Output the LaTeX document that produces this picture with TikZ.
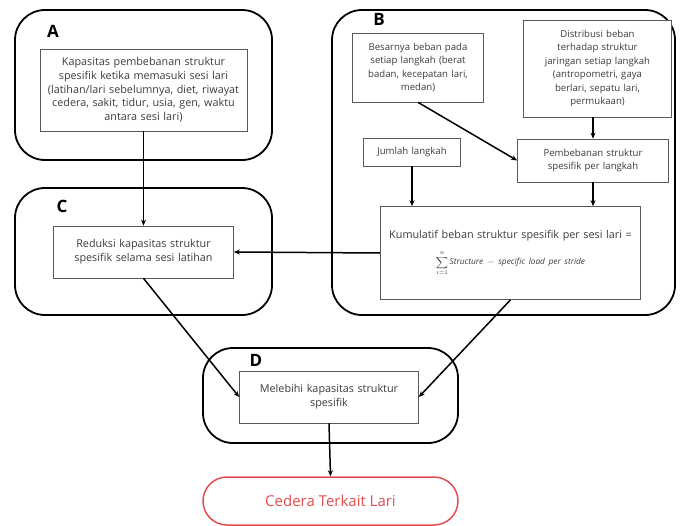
\documentclass[tikz,border=0pt]{standalone}
\usepackage{fontspec}
\setmainfont{Open Sans}
\usepackage{amsmath}
\usetikzlibrary{arrows.meta}
\definecolor{merah}{RGB}{226,78,78}
\definecolor{teks}{RGB}{60,60,60}
\tikzset{
  grup/.style={draw=black, line width=1.8pt, rounded corners=30pt, inner sep=0pt},
  kotak/.style={draw=black!65, line width=0.7pt, fill=white, inner sep=2pt, align=center,
    text=teks, font=\fontsize{9.6}{13.5}\selectfont},
  besar/.style={font=\fontsize{10.8}{13.7}\selectfont},
  huruf/.style={font=\fontsize{17}{17}\selectfont\bfseries},
  panah/.style={line width=1.5pt, -{Stealth[length=6pt,width=5pt]}}
}
\begin{document}
\begin{tikzpicture}[x=1pt,y=-1pt]
\useasboundingbox (0,0) rectangle (680,525);
% kelompok
\node[grup, minimum width=257pt, minimum height=150pt] (grpA) at (143.5,85) {};
\node[grup, minimum width=257pt, minimum height=127pt] (grpC) at (143.5,251.5) {};
\node[grup, minimum width=343pt, minimum height=305pt] (grpB) at (503.5,162.5) {};
\node[grup, minimum width=255pt, minimum height=95pt] (grpD) at (330.5,395.5) {};
\node[huruf] (labA) at (53,31) {A};
\node[huruf] (labB) at (379,19) {B};
\node[huruf] (labC) at (62,206) {C};
\node[huruf] (labD) at (256,360) {D};
% kotak isi
\node[kotak, besar, text width=203pt, minimum height=82pt] (kapasitas) at (143.5,90)
  {Kapasitas pembebanan struktur\\ spesifik ketika memasuki sesi lari\\ (latihan/lari sebelumnya, diet, riwayat\\ cedera, sakit, tidur, usia, gen, waktu\\ antara sesi lari)};
\node[kotak, besar, text width=176pt, minimum height=52pt] (reduksi) at (143.5,252)
  {Reduksi kapasitas struktur\\ spesifik selama sesi latihan};
\node[kotak, text width=127pt, minimum height=69pt] (besar) at (418,67.5)
  {Besarnya beban pada\\ setiap langkah (berat\\ badan, kecepatan lari,\\ medan)};
\node[kotak, text width=144pt, minimum height=97pt] (distribusi) at (597.5,68.5)
  {Distribusi beban\\ terhadap struktur\\ jaringan setiap langkah\\ (antropometri, gaya\\ berlari, sepatu lari,\\ permukaan)};
\node[kotak, text width=93pt, minimum height=28pt] (jumlah) at (412,152) {Jumlah langkah};
\node[kotak, text width=147pt, minimum height=43pt] (pembebanan) at (593,160.5)
  {Pembebanan struktur\\ spesifik per langkah};
\node[kotak, besar, text width=256pt, minimum height=93pt] (kumulatif) at (510.5,253)
  {Kumulatif beban struktur spesifik per sesi lari =\\[9pt]
   {\fontsize{8.3}{9}\selectfont$\displaystyle\sum_{i=1}^{n}\mathit{Structure}-\mathit{specific\ load\ per\ stride}$}};
\node[kotak, besar, text width=175pt, minimum height=52pt] (melebihi) at (329,397)
  {Melebihi kapasitas struktur\\ spesifik};
\node[draw=merah, line width=1.5pt, rounded corners=24pt, minimum width=255pt, minimum height=48pt,
  text=merah, font=\fontsize{15}{18}\selectfont] (cedera) at (330.5,501) {Cedera Terkait Lari};
% panah
\draw[panah] (kapasitas.south) -- (reduksi.north);
\draw[panah] (besar.south) -- (pembebanan.west);
\draw[panah] (pembebanan.north |- distribusi.south) -- (pembebanan.north);
\draw[panah] (jumlah.south) -- (jumlah.south |- kumulatif.north);
\draw[panah] (pembebanan.south) -- (pembebanan.south |- kumulatif.north);
\draw[panah] (kumulatif.west) -- (reduksi.east);
\draw[panah] (kumulatif.south) -- (melebihi.east);
\draw[panah] (reduksi.south) -- (melebihi.west);
\draw[panah] (melebihi.south) -- (cedera.north);
\end{tikzpicture}
\end{document}
